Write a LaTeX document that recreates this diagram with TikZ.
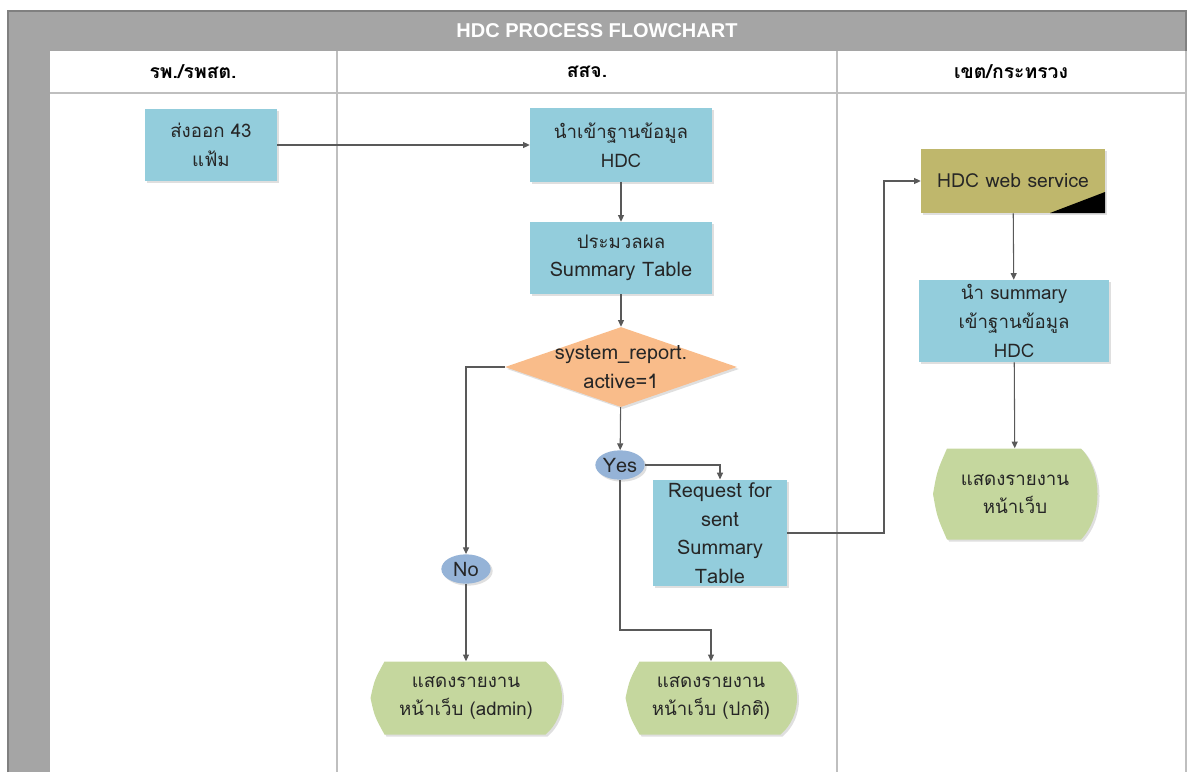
\documentclass[tikz,border=0pt]{standalone}
\usepackage{fontspec}
\setmainfont{Liberation Sans}
\newfontfamily\thaifont[Script=Thai]{Loma}
\usetikzlibrary{shapes.geometric,arrows.meta,shadows}

\definecolor{boxblue}{HTML}{93CDDC}
\definecolor{decorange}{HTML}{F9BC8A}
\definecolor{ovalblue}{HTML}{95B3D7}
\definecolor{dispgreen}{HTML}{C5D79E}
\definecolor{weboliv}{HTML}{BFB76C}
\definecolor{headgray}{HTML}{A5A5A5}
\definecolor{lanegray}{HTML}{BFBFBF}
\definecolor{linegray}{HTML}{595959}
\definecolor{txt}{HTML}{262626}

\tikzset{
  boxshadow/.style={drop shadow={shadow xshift=1.5pt,shadow yshift=-1.5pt,opacity=.25}},
  proc/.style={rectangle,fill=boxblue,boxshadow,text=txt,align=center,inner sep=1pt,
    font=\thaifont\fontsize{14}{21.5}\selectfont},
  latin/.style={font=\thaifont\fontsize{15}{21.5}\selectfont},
  decide/.style={diamond,fill=decorange,boxshadow,inner sep=0pt,
    minimum width=174pt,minimum height=60pt},
  answer/.style={ellipse,fill=ovalblue,boxshadow,text=txt,inner sep=0pt,
    text height=12.5pt,text depth=2pt,
    minimum width=37pt,minimum height=22pt,font=\thaifont\fontsize{15}{17}\selectfont},
  disp/.style={rectangle,text=txt,align=center,inner sep=0pt,
    font=\thaifont\fontsize{14}{21.5}\selectfont},
  lanehead/.style={font=\thaifont\bfseries\fontsize{14.5}{16}\selectfont,text=black},
  flow/.style={draw=linegray,line width=0.8pt,-{Triangle[length=5pt,width=4.5pt]}}
}

% display shape: name, x, y, width, height (px), text
\newcommand{\dispnode}[6]{%
  \fill[dispgreen,boxshadow,shift={(#2,#3)}]
    ({-#4/2+14},{-#5/2}) -- ({#4/2-16},{-#5/2})
    .. controls ({#4/2+6},{-#5/4}) and ({#4/2+6},{#5/4}) .. ({#4/2-16},{#5/2})
    -- ({-#4/2+14},{#5/2})
    .. controls ({-#4/2+4},{#5/4}) .. ({-#4/2},0)
    .. controls ({-#4/2+4},{-#5/4}) .. cycle;
  \node[disp,minimum width=#4*0.75pt,minimum height=#5*0.75pt] (#1) at (#2,#3) {#6};
}

\begin{document}
\begin{tikzpicture}[x=0.75pt,y=-0.75pt]
\useasboundingbox (0,0) rectangle (1187,772);

% lanes
\fill[headgray] (8,11) rectangle (1186,51);
\fill[headgray] (8,51) rectangle (50,772);
\draw[lanegray,line width=0.8pt] (50,93) -- (1186,93);
\draw[lanegray,line width=0.8pt] (337,51) -- (337,772) (837,51) -- (837,772);
\draw[lanegray,line width=0.8pt] (1186,51) -- (1186,772);
\draw[gray,line width=0.8pt] (8,772) -- (8,11) -- (1186,11) -- (1186,51);
\node[font=\bfseries\fontsize{15}{17}\selectfont,text=white] (title) at (597,31) {HDC PROCESS FLOWCHART};
\node[lanehead] (l1) at (193,72) {รพ./รพสต.};
\node[lanehead] (l2) at (587,72) {สสจ.};
\node[lanehead] (l3) at (1011,72) {เขต/กระทรวง};

% nodes
\node[proc,minimum width=99pt,minimum height=54pt] (exp) at (211,145) {ส่งออก 43\\แฟ้ม};
\node[proc,minimum width=136.5pt,minimum height=55pt] (imp) at (621,145) {นำเข้าฐานข้อมูล\\HDC};
\node[proc,minimum width=136.5pt,minimum height=54pt] (calc) at (621,258) {ประมวลผล\\{\fontsize{15}{21.5}\selectfont Summary Table}};
\node[decide,label={[align=center,text=txt,latin]center:system\_report.\\active=1}] (chk) at (621,367) {};
\node[answer] (yes) at (620,465) {Yes};
\node[answer] (no) at (466,569) {No};
\node[proc,latin,inner sep=0pt,minimum width=100pt,minimum height=80pt] (req) at (720,533) {Request for\\sent\\Summary\\Table};
\node[proc,fill=weboliv,font=\thaifont\fontsize{14.5}{17}\selectfont,minimum width=138pt,minimum height=48pt,
  path picture={\fill[black] (path picture bounding box.south east) -- ++(-55,0) -- ++(55,-21) -- cycle;}] (web) at (1013,181) {HDC web service};
\node[proc,minimum width=142.5pt,minimum height=61.5pt] (sum) at (1014,321) {นำ summary\\เข้าฐานข้อมูล\\HDC};
\dispnode{rep}{1015}{494}{164}{91}{แสดงรายงาน\\หน้าเว็บ}
\dispnode{adm}{466}{698}{191}{73}{แสดงรายงาน\\หน้าเว็บ (admin)}
\dispnode{nor}{711}{698}{171}{73}{แสดงรายงาน\\หน้าเว็บ (ปกติ)}
\coordinate (jog) at (711,630);
\coordinate (up) at (884,400);

% connectors
\draw[flow] (exp.east) -- (imp.west);
\draw[flow] (imp) -- (calc);
\draw[flow] (calc) -- (chk);
\draw[flow] (chk) -- (yes);
\draw[flow] (chk.west) -| (no);
\draw[flow] (no) -- (adm);
\draw[flow] (yes.east) -| (req.north);
\draw[flow] (yes.south) |- (jog) -- (nor.north);
\draw[flow] (req.east) -| (up) |- (web.west);
\draw[flow] (web) -- (sum);
\draw[flow] (sum) -- (rep);
\end{tikzpicture}
\end{document}
